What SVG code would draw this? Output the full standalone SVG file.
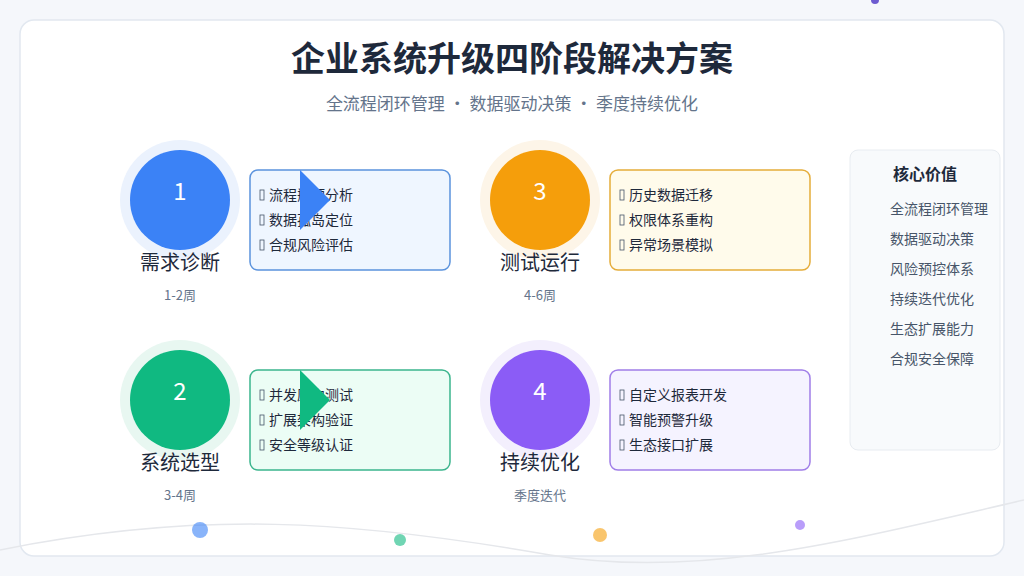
<svg xmlns="http://www.w3.org/2000/svg" width="1024" height="576" viewBox="0 0 1024 576">
<style>
text{font-family:"Noto Sans CJK SC","Liberation Sans",sans-serif}
.t{font-size:34px;font-weight:bold;fill:#1e293b;text-anchor:middle}
.sub{font-size:17px;fill:#64748b;text-anchor:middle}
.num{font-size:24px;fill:#fff;text-anchor:middle}
.nm{font-size:20px;fill:#1e293b;text-anchor:middle}
.dur{font-size:13px;fill:#64748b;text-anchor:middle}
.it{font-size:14px;fill:#1e293b}
.ic{fill:none;stroke:#475569;stroke-width:0.8}
.pv{font-size:14px;fill:#475569}
</style>
<rect width="1024" height="576" fill="#f5f7fb"/>
<circle cx="875" cy="0" r="4" fill="#6d5bd0"/>
<rect x="20" y="20" width="984" height="536" rx="14" fill="#fff" stroke="#e2e8f0" stroke-width="1.5"/>
<path d="M0 550 C200 510 350 520 550 555 C700 580 850 540 1024 500" fill="none" stroke="#e5e7eb" stroke-width="1.5"/>
<text class="t" x="512" y="71">企业系统升级四阶段解决方案</text>
<text class="sub" x="512" y="110">全流程闭环管理 · 数据驱动决策 · 季度持续优化</text>
<g id="stage1">
<circle cx="180" cy="200" r="60" fill="#ebf2fd"/><circle cx="180" cy="200" r="50" fill="#3b82f6"/>
<text class="num" x="180" y="200">1</text>
<text class="nm" x="180" y="270">需求诊断</text><text class="dur" x="180" y="300">1-2周</text>
<rect x="250" y="170" width="200" height="100" rx="8" fill="#eff6ff" stroke="#5b93dd" stroke-width="1.5"/>
<rect class="ic" x="260" y="190" width="4" height="10"/><text class="it" x="269" y="200">流程瓶颈分析</text>
<rect class="ic" x="260" y="215" width="4" height="10"/><text class="it" x="269" y="225">数据孤岛定位</text>
<rect class="ic" x="260" y="240" width="4" height="10"/><text class="it" x="269" y="250">合规风险评估</text>
<polygon points="300,170 330,200 300,230" fill="#3b82f6"/>
</g>
<g id="stage2">
<circle cx="180" cy="400" r="60" fill="#e8f7f1"/><circle cx="180" cy="400" r="50" fill="#10b981"/>
<text class="num" x="180" y="400">2</text>
<text class="nm" x="180" y="470">系统选型</text><text class="dur" x="180" y="500">3-4周</text>
<rect x="250" y="370" width="200" height="100" rx="8" fill="#ecfdf5" stroke="#3bb58d" stroke-width="1.5"/>
<rect class="ic" x="260" y="390" width="4" height="10"/><text class="it" x="269" y="400">并发压力测试</text>
<rect class="ic" x="260" y="415" width="4" height="10"/><text class="it" x="269" y="425">扩展架构验证</text>
<rect class="ic" x="260" y="440" width="4" height="10"/><text class="it" x="269" y="450">安全等级认证</text>
<polygon points="300,370 330,400 300,430" fill="#10b981"/>
</g>
<g id="stage3">
<circle cx="540" cy="200" r="60" fill="#fdf5e8"/><circle cx="540" cy="200" r="50" fill="#f59e0b"/>
<text class="num" x="540" y="200">3</text>
<text class="nm" x="540" y="270">测试运行</text><text class="dur" x="540" y="300">4-6周</text>
<rect x="610" y="170" width="200" height="100" rx="8" fill="#fffbeb" stroke="#e5ad3a" stroke-width="1.5"/>
<rect class="ic" x="620" y="190" width="4" height="10"/><text class="it" x="629" y="200">历史数据迁移</text>
<rect class="ic" x="620" y="215" width="4" height="10"/><text class="it" x="629" y="225">权限体系重构</text>
<rect class="ic" x="620" y="240" width="4" height="10"/><text class="it" x="629" y="250">异常场景模拟</text>
</g>
<g id="stage4">
<circle cx="540" cy="400" r="60" fill="#f3effd"/><circle cx="540" cy="400" r="50" fill="#8b5cf6"/>
<text class="num" x="540" y="400">4</text>
<text class="nm" x="540" y="470">持续优化</text><text class="dur" x="540" y="500">季度迭代</text>
<rect x="610" y="370" width="200" height="100" rx="8" fill="#f5f3ff" stroke="#a07ee8" stroke-width="1.5"/>
<rect class="ic" x="620" y="390" width="4" height="10"/><text class="it" x="629" y="400">自定义报表开发</text>
<rect class="ic" x="620" y="415" width="4" height="10"/><text class="it" x="629" y="425">智能预警升级</text>
<rect class="ic" x="620" y="440" width="4" height="10"/><text class="it" x="629" y="450">生态接口扩展</text>
</g>
<g id="values">
<rect x="850" y="150" width="150" height="300" rx="8" fill="#f8fafc" stroke="#e8ecf1"/>
<text x="925" y="180" font-size="16" font-weight="bold" fill="#1e293b" text-anchor="middle">核心价值</text>
<text class="pv" x="890" y="214">全流程闭环管理</text>
<text class="pv" x="890" y="244">数据驱动决策</text>
<text class="pv" x="890" y="274">风险预控体系</text>
<text class="pv" x="890" y="304">持续迭代优化</text>
<text class="pv" x="890" y="334">生态扩展能力</text>
<text class="pv" x="890" y="364">合规安全保障</text>
</g>
<g id="connectors"/>
<circle cx="200" cy="530" r="8" fill="#3b82f6" opacity="0.6"/>
<circle cx="400" cy="540" r="6" fill="#10b981" opacity="0.6"/>
<circle cx="600" cy="535" r="7" fill="#f59e0b" opacity="0.6"/>
<circle cx="800" cy="525" r="5" fill="#8b5cf6" opacity="0.6"/>
</svg>
